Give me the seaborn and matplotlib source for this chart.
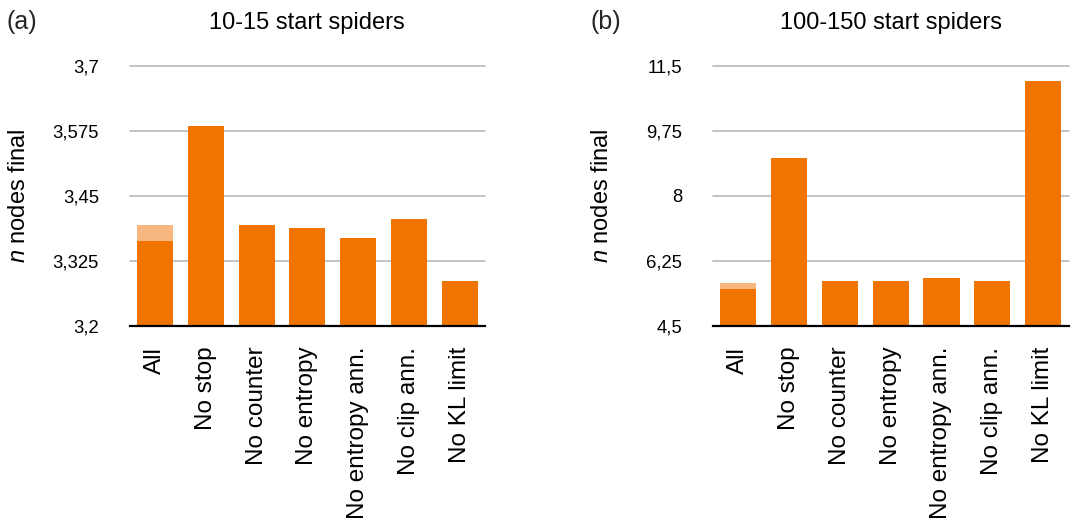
import numpy as np
import pandas as pd
import seaborn as sns
import matplotlib
matplotlib.use("Agg")
import matplotlib.pyplot as plt
from matplotlib.ticker import FixedLocator, FuncFormatter

# veriler
labels = ["All", "No stop", "No counter", "No entropy", "No entropy ann.", "No clip ann.", "No KL limit"]
small_vals = [3.364, 3.585, 3.394, 3.389, 3.369, 3.405, 3.287]
small_all_upper = 3.394
large_vals = [5.50, 9.01, 5.71, 5.71, 5.80, 5.71, 11.10]
large_all_upper = 5.65
small_ticks = [3.2, 3.325, 3.45, 3.575, 3.7]
large_ticks = [4.5, 6.25, 8, 9.75, 11.5]

dark = "#F07400"
light = "#F8B680"

sns.set_theme(style="white")
plt.rcParams["font.family"] = ["Liberation Sans", "DejaVu Sans"]
plt.rcParams["mathtext.fontset"] = "custom"
plt.rcParams["mathtext.it"] = "Liberation Sans:italic"

fig = plt.figure(figsize=(10.79, 5.29), dpi=100)
ax1 = fig.add_axes([129.6/1079, 1-326/529, 355.4/1079, 260/529])
ax2 = fig.add_axes([712.6/1079, 1-326/529, 356/1079, 260/529])

def comma(v, pos):
    return ("%g" % v).replace(".", ",")

def draw(ax, vals, upper, ticks, title, tag):
    df = pd.DataFrame({"label": labels, "value": vals})
    up = pd.DataFrame({"label": labels[:1], "value": [upper]})
    # önce açık renkli üst kısım
    sns.barplot(data=up, x="label", y="value", order=labels, color=light,
                saturation=1, width=0.71, linewidth=0, edgecolor="none", ax=ax, zorder=2)
    sns.barplot(data=df, x="label", y="value", order=labels, color=dark,
                saturation=1, width=0.71, linewidth=0, edgecolor="none", ax=ax, zorder=3)
    ax.set_ylim(ticks[0], ticks[-1])
    ax.set_xlim(-0.5, len(labels) - 0.5)
    ax.yaxis.set_major_locator(FixedLocator(ticks))
    ax.yaxis.set_major_formatter(FuncFormatter(comma))
    ax.grid(axis="y", color="#BEBEBE", linewidth=1.3, zorder=0)
    ax.set_axisbelow(True)
    for gl in ax.get_ygridlines():
        gl.set_clip_on(False)
    for s in ["top", "right", "left"]:
        ax.spines[s].set_visible(False)
    ax.spines["bottom"].set_color("black")
    ax.spines["bottom"].set_linewidth(1.6)
    ax.spines["bottom"].set_zorder(5)
    ax.tick_params(axis="y", length=0, pad=22, labelsize=13.3, labelcolor="black")
    ax.tick_params(axis="x", length=0, pad=15, labelsize=17.5, labelrotation=90, labelcolor="black")
    ax.set_xlabel("")
    ax.set_ylabel("$n$ nodes final", fontsize=17, color="black")
    ax.yaxis.set_label_coords(-0.28, 0.5)
    ax.set_title(title, fontsize=17, pad=27, color="black")
    ax.text(tag[1], 0.958, tag[0], transform=fig.transFigure, fontsize=18,
            ha="left", va="center")

draw(ax1, small_vals, small_all_upper, small_ticks, "10-15 start spiders", ("(a)", 7/1079))
draw(ax2, large_vals, large_all_upper, large_ticks, "100-150 start spiders", ("(b)", 591/1079))

fig.savefig("out.png", dpi=100)
